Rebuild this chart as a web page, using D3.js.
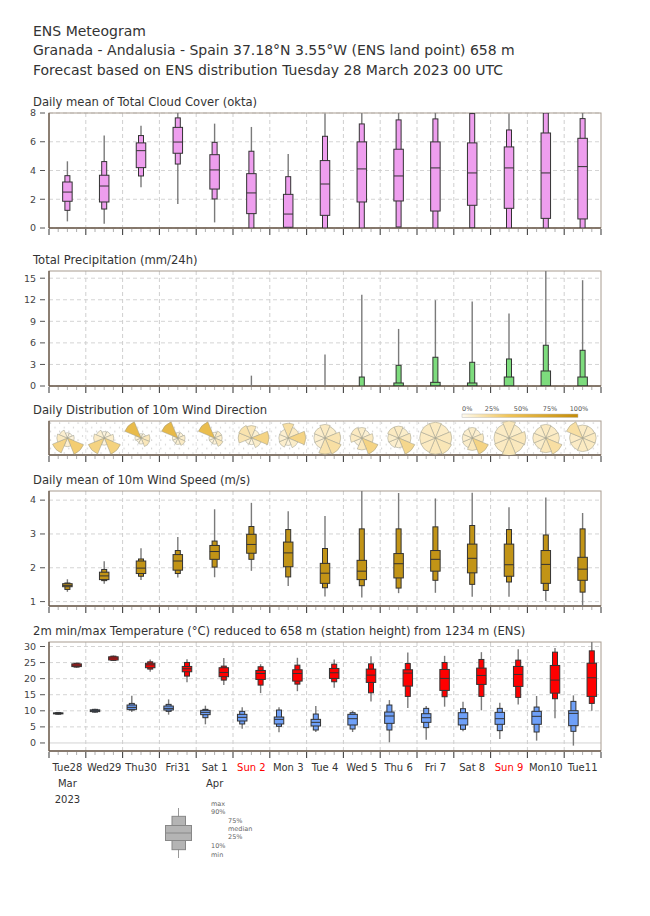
<!DOCTYPE html>
<html>
<head>
<meta charset="utf-8">
<script src="https://cdn.jsdelivr.net/npm/d3@7"></script>
<style>
  body { margin: 0; background: #fff; }
  text { font-family: "DejaVu Sans", sans-serif; }
</style>
</head>
<body>
<svg id="chart" width="650" height="916"></svg>
<script>
"use strict"

// ---- data ----
const dayLabels = ["Tue28", "Wed29", "Thu30", "Fri31", "Sat 1", "Sun 2", "Mon 3", "Tue 4",
    "Wed 5", "Thu 6", "Fri 7", "Sat 8", "Sun 9", "Mon10", "Tue11"]
const redDays = ["Sun 2", "Sun 9"]
const monthLabels = [{day: 0, text: "Mar"}, {day: 4, text: "Apr"}]
const yearLabels = [{day: 0, text: "2023"}]

// each day: [min, p10, p25, median, p75, p90, max]
const cloud = [
    [0.46, 1.23, 1.86, 2.5, 3.2, 3.64, 4.64],
    [0.3, 1.32, 1.81, 2.92, 3.67, 4.62, 6.43],
    [2.83, 3.62, 4.2, 5.38, 5.92, 6.43, 7.12],
    [1.67, 4.45, 5.2, 5.98, 7.0, 7.66, 8.0],
    [0.39, 2.02, 2.71, 4.04, 5.1, 5.96, 7.26],
    [0, 0, 1.0, 2.44, 3.78, 5.34, 7.03],
    [0, 0, 0.05, 0.97, 2.34, 3.57, 5.15],
    [0, 0, 0.88, 3.06, 4.69, 6.38, 7.96],
    [0, 0, 1.81, 4.11, 5.99, 7.24, 8.0],
    [0, 0.07, 1.88, 3.62, 5.48, 7.52, 8.0],
    [0, 0, 1.18, 4.18, 5.99, 7.59, 8.0],
    [0, 0.02, 1.58, 3.83, 5.92, 7.96, 7.96],
    [0, 0, 1.37, 4.18, 5.64, 6.82, 7.96],
    [0, 0, 0.67, 3.83, 6.61, 8.0, 8.0],
    [0, 0, 0.63, 4.27, 6.24, 7.61, 8.0]
]
const precip = [
    [0, 0, 0, 0, 0, 0, 0],
    [0, 0, 0, 0, 0, 0, 0],
    [0, 0, 0, 0, 0, 0, 0],
    [0, 0, 0, 0, 0, 0, 0],
    [0, 0, 0, 0, 0, 0, 0.15],
    [0, 0, 0, 0, 0, 0, 1.44],
    [0, 0, 0, 0, 0, 0, 0],
    [0, 0, 0, 0, 0, 0, 4.4],
    [0, 0, 0, 0, 0, 1.25, 12.7],
    [0, 0, 0, 0, 0.42, 2.88, 7.94],
    [0, 0, 0, 0, 0.51, 4.0, 11.94],
    [0, 0, 0, 0, 0.42, 3.3, 11.75],
    [0, 0, 0, 0, 1.25, 3.76, 10.08],
    [0, 0, 0, 0, 2.09, 5.67, 16.5],
    [0, 0, 0, 0, 1.25, 4.97, 14.72]
]
const windSpeed = [
    [1.29, 1.36, 1.44, 1.48, 1.53, 1.55, 1.66],
    [1.53, 1.62, 1.65, 1.76, 1.87, 1.95, 2.19],
    [1.64, 1.75, 1.83, 1.99, 2.2, 2.26, 2.58],
    [1.71, 1.83, 1.93, 2.2, 2.39, 2.51, 2.91],
    [1.72, 2.02, 2.25, 2.48, 2.66, 2.79, 3.73],
    [1.91, 2.25, 2.43, 2.69, 2.99, 3.22, 3.92],
    [1.46, 1.73, 2.03, 2.44, 2.76, 3.13, 3.67],
    [1.15, 1.41, 1.54, 1.84, 2.13, 2.57, 3.53],
    [1.12, 1.47, 1.65, 1.9, 2.22, 3.15, 4.3],
    [1.25, 1.4, 1.7, 2.12, 2.42, 3.15, 4.21],
    [1.26, 1.63, 1.9, 2.25, 2.51, 3.21, 4.05],
    [1.14, 1.51, 1.85, 2.28, 2.7, 3.25, 4.22],
    [1.14, 1.58, 1.75, 2.09, 2.7, 3.13, 3.79],
    [1.02, 1.33, 1.54, 2.1, 2.51, 2.97, 4.08],
    [0.87, 1.28, 1.63, 1.96, 2.31, 3.15, 3.62]
]
const tempMin = [
    [8.8, 8.95, 9.05, 9.2, 9.35, 9.45, 9.6],
    [9.4, 9.6, 9.75, 10.05, 10.3, 10.45, 10.65],
    [9.6, 10.24, 10.45, 11.07, 11.8, 12.3, 14.7],
    [8.8, 9.83, 10.24, 10.76, 11.48, 12.0, 13.55],
    [5.8, 7.86, 8.8, 9.52, 10.14, 10.45, 11.6],
    [4.45, 5.9, 6.83, 7.97, 8.9, 9.83, 11.07],
    [3.3, 5.17, 5.9, 7.34, 8.07, 10.24, 11.07],
    [3.41, 4.03, 5.28, 6.41, 7.34, 9.0, 11.48],
    [3.41, 4.34, 5.59, 7.55, 8.9, 9.41, 9.93],
    [0.2, 4.03, 6.1, 8.38, 9.62, 11.8, 13.34],
    [1.03, 4.76, 6.41, 7.86, 9.1, 10.76, 11.48],
    [3.62, 4.24, 5.59, 7.55, 9.41, 10.65, 12.83],
    [1.24, 3.83, 5.8, 7.55, 9.52, 10.76, 12.5],
    [0.72, 3.41, 5.8, 8.28, 9.83, 11.17, 14.6],
    [-0.83, 3.62, 5.38, 9.2, 10.03, 12.93, 14.8]
]
const tempMax = [
    [23.4, 23.6, 23.75, 24.2, 24.6, 24.8, 25.0],
    [25.55, 25.7, 25.8, 26.4, 26.8, 27.0, 27.2],
    [22.14, 22.97, 23.4, 24.3, 24.8, 25.24, 25.97],
    [18.9, 20.8, 22.14, 23.07, 23.8, 25.03, 26.07],
    [18.0, 19.55, 20.6, 21.93, 23.4, 23.9, 26.4],
    [15.5, 18.0, 19.76, 21.6, 22.55, 23.7, 24.5],
    [16.1, 18.3, 19.24, 21.6, 22.76, 24.2, 26.5],
    [17.17, 19.03, 20.07, 21.83, 23.17, 24.5, 25.97],
    [12.93, 15.6, 18.83, 21.1, 22.97, 24.6, 27.0],
    [10.86, 14.48, 17.69, 21.72, 22.76, 24.7, 28.1],
    [11.28, 14.38, 16.34, 20.07, 22.86, 25.03, 27.1],
    [10.14, 14.48, 18.2, 21.0, 23.28, 25.97, 28.24],
    [12.0, 14.17, 17.59, 21.3, 23.8, 25.76, 29.17],
    [7.66, 13.76, 15.5, 19.55, 24.1, 28.24, 29.5],
    [10.03, 12.3, 14.48, 20.28, 24.8, 28.65, 32.0]
]
// frequency (%) per sector: N, NE, E, SE, S, SW, W, NW
const windDir = [
    [3, 3, 5, 33, 8, 28, 12, 8],
    [4, 5, 9, 30, 5, 29, 11, 7],
    [3, 4, 13, 14, 6, 4, 6, 50],
    [5, 6, 9, 11, 7, 5, 5, 52],
    [5, 9, 9, 13, 6, 5, 5, 48],
    [14, 7, 28, 10, 4, 4, 16, 17],
    [20, 12, 28, 10, 5, 9, 8, 8],
    [12, 10, 16, 20, 17, 8, 8, 9],
    [10, 7, 12, 28, 13, 6, 12, 12],
    [12, 10, 13, 26, 8, 9, 10, 12],
    [12, 11, 13, 15, 13, 12, 12, 12],
    [10, 8, 12, 28, 14, 10, 9, 9],
    [14, 10, 14, 13, 15, 12, 11, 11],
    [12, 11, 12, 20, 14, 10, 11, 10],
    [11, 11, 12, 12, 12, 11, 11, 20]
]
const freqTicks = [0, 25, 50, 75, 100]
const legendLabels = ["max", "90%", "75%", "median", "25%", "10%", "min"]

// ---- layout ----
const svg = d3.select("#chart")
const start = Date.UTC(2023, 2, 28)
const hour = 3600 * 1000
const x = d3.scaleUtc().domain([new Date(start), new Date(start + 15 * 24 * hour)]).range([49, 601])
const at = (day, h) => x(new Date(start + (day * 24 + h) * hour))

const textColor = "#333"
const frameColor = "#a89c90"
const axisColor = "#6e5e50"

svg.append("text").attr("x", 33).attr("y", 36).style("font-size", "14px").attr("fill", textColor).text("ENS Meteogram")
svg.append("text").attr("x", 33).attr("y", 55).style("font-size", "14px").attr("fill", textColor)
    .text("Granada - Andalusia - Spain 37.18°N 3.55°W (ENS land point) 658 m")
svg.append("text").attr("x", 33).attr("y", 75).style("font-size", "14px").attr("fill", textColor)
    .text("Forecast based on ENS distribution Tuesday 28 March 2023 00 UTC")

let clipId = 0

function panel(top, bottom, title, domain, ticks, opts) {
    opts = opts || {}
    const g = svg.append("g")
    const y = domain ? d3.scaleLinear().domain(domain).range([bottom, top]) : null

    g.append("text").attr("x", 33).attr("y", top - 7).style("font-size", "11.6px")
        .attr("fill", textColor).text(title)

    if (opts.pattern) {
        g.append("rect").attr("x", 49).attr("y", top).attr("width", 552).attr("height", bottom - top)
            .attr("fill", "url(#dots)")
    }

    // horizontal grid
    if (y) {
        g.selectAll(".hgrid").data(ticks).enter().append("line")
            .attr("x1", 49).attr("x2", 601)
            .attr("y1", d => y(d)).attr("y2", d => y(d))
            .attr("stroke", "#d4d4d4")
            .attr("stroke-width", 1)
            .attr("stroke-dasharray", d => (opts.zeroLine && d === 0) ? null : "4,3")
    }
    // vertical grid at day boundaries
    g.selectAll(".vgrid").data(d3.range(1, 15)).enter().append("line")
        .attr("x1", d => at(d, 0)).attr("x2", d => at(d, 0))
        .attr("y1", top).attr("y2", bottom)
        .attr("stroke", opts.pattern ? "#e2e2e2" : "#cfcfcf").attr("stroke-dasharray", "4,3")

    // frame
    g.append("rect").attr("x", 49).attr("y", top).attr("width", 552).attr("height", bottom - top)
        .attr("fill", "none").attr("stroke", frameColor).attr("stroke-width", 1)
    g.append("line").attr("x1", 49).attr("x2", 49).attr("y1", top).attr("y2", bottom)
        .attr("stroke", axisColor).attr("stroke-width", 1.4)
    g.append("line").attr("x1", 49).attr("x2", 601).attr("y1", bottom).attr("y2", bottom)
        .attr("stroke", axisColor).attr("stroke-width", 1.4)

    // y ticks
    if (y) {
        g.selectAll(".ytick").data(ticks).enter().append("line")
            .attr("x1", 40).attr("x2", 45).attr("y1", d => y(d)).attr("y2", d => y(d))
            .attr("stroke", "#555")
        g.selectAll(".ylab").data(ticks).enter().append("text")
            .attr("x", 36).attr("y", d => y(d)).attr("dy", "0.35em")
            .attr("text-anchor", "end").style("font-size", "9.5px").attr("fill", "#444")
            .text(d => d)
    }

    // x ticks every 6 h
    const hours = d3.range(0, 15 * 4 + 1)
    g.selectAll(".xtick").data(hours).enter().append("line")
        .attr("x1", d => at(0, d * 6)).attr("x2", d => at(0, d * 6))
        .attr("y1", bottom + 1).attr("y2", d => d % 4 === 0 ? bottom + 7 : bottom + 4)
        .attr("stroke", d => d % 4 === 0 ? "#444" : "#999")
        .attr("stroke-width", d => d % 4 === 0 ? 1.1 : 0.8)

    const clip = "clip" + (clipId++)
    svg.append("clipPath").attr("id", clip).append("rect")
        .attr("x", 49).attr("y", top).attr("width", 552).attr("height", bottom - top)
    const marks = svg.append("g").attr("clip-path", "url(#" + clip + ")")
    return {y: y, marks: marks, top: top, bottom: bottom}
}

function drawBoxes(p, data, hourOfDay, color) {
    const y = p.y
    const wide = 9.5, narrow = 5
    data.forEach((s, i) => {
        const cx = at(i, hourOfDay)
        const g = p.marks.append("g")
        if (s[6] > s[0]) {
            g.append("line").attr("x1", cx).attr("x2", cx)
                .attr("y1", y(s[0])).attr("y2", y(s[6]))
                .attr("stroke", "#7a7a7a").attr("stroke-width", 1.4)
        }
        if (y(s[1]) - y(s[5]) > 0.4) {
            g.append("rect").attr("x", cx - narrow / 2).attr("width", narrow)
                .attr("y", y(s[5])).attr("height", y(s[1]) - y(s[5]))
                .attr("fill", color).attr("stroke", "#333").attr("stroke-width", 1)
        }
        if (y(s[2]) - y(s[4]) > 0.4) {
            g.append("rect").attr("x", cx - wide / 2).attr("width", wide)
                .attr("y", y(s[4])).attr("height", y(s[2]) - y(s[4]))
                .attr("fill", color).attr("stroke", "#333").attr("stroke-width", 1)
            g.append("line").attr("x1", cx - wide / 2).attr("x2", cx + wide / 2)
                .attr("y1", y(s[3])).attr("y2", y(s[3]))
                .attr("stroke", "#333").attr("stroke-width", 1)
        }
    })
}

// dots pattern for the wind direction background
const defs = svg.append("defs")
const pat = defs.append("pattern").attr("id", "dots").attr("patternUnits", "userSpaceOnUse")
    .attr("x", 49).attr("y", 421).attr("width", 36.8 / 4).attr("height", 8.5)
pat.append("circle").attr("cx", 1.5).attr("cy", 2).attr("r", 0.6).attr("fill", "#aaa")
pat.append("circle").attr("cx", 6).attr("cy", 6.5).attr("r", 0.6).attr("fill", "#bbb")

const grad = defs.append("linearGradient").attr("id", "freqGrad")
const freqColor = d3.scaleLinear().domain([0, 40, 100]).range(["#fffaee", "#f0c458", "#c48c08"])
d3.range(0, 101, 10).forEach(v => grad.append("stop").attr("offset", v + "%").attr("stop-color", freqColor(v)))

// ---- panels ----
const pCloud = panel(113, 228, "Daily mean of Total Cloud Cover (okta)", [0, 8], [0, 2, 4, 6, 8])
drawBoxes(pCloud, cloud, 12, "#ee9eee")

const pPrecip = panel(271, 386, "Total Precipitation (mm/24h)", [0, 16], [0, 3, 6, 9, 12, 15])
drawBoxes(pPrecip, precip, 12, "#7ddc7d")

const pDir = panel(421, 455, "Daily Distribution of 10m Wind Direction", null, [], {pattern: true})
const cy = 438, rMax = 17.5
const arc = d3.arc().innerRadius(0)
windDir.forEach((freqs, i) => {
    const fmax = d3.max(freqs)
    const cx = at(i, 12)
    const g = pDir.marks.append("g").attr("transform", "translate(" + cx + "," + cy + ")")
    g.selectAll("path").data(freqs).enter().append("path")
        .attr("d", (f, k) => arc({
            outerRadius: rMax * Math.sqrt(f / fmax),
            startAngle: (k * 45 - 22.5) * Math.PI / 180,
            endAngle: (k * 45 + 22.5) * Math.PI / 180
        }))
        .attr("fill", f => freqColor(f))
        .attr("stroke", "#9a9a8a").attr("stroke-width", 0.5)
})
// frequency legend
const lx = d3.scaleLinear().domain([0, 100]).range([462, 578])
svg.append("rect").attr("x", lx(0)).attr("y", 414).attr("width", lx(100) - lx(0)).attr("height", 3.5)
    .attr("fill", "url(#freqGrad)").attr("stroke", "#bbb").attr("stroke-width", 0.5)
svg.selectAll(".flab").data(freqTicks).enter().append("text")
    .attr("x", d => d === 0 ? lx(d) : lx(d) + 1).attr("y", 411)
    .attr("text-anchor", d => d === 0 ? "start" : "middle")
    .style("font-size", "6.5px").attr("fill", "#555").text(d => d + "%")

const pWind = panel(491, 606, "Daily mean of 10m Wind Speed (m/s)", [0.87, 4.27], [1, 2, 3, 4])
drawBoxes(pWind, windSpeed, 12, "#c29416")

const pTemp = panel(642, 751, "2m min/max Temperature (°C) reduced to 658 m (station height) from 1234 m (ENS)",
    [-2.5, 31.4], [0, 5, 10, 15, 20, 25, 30], {zeroLine: true})
drawBoxes(pTemp, tempMin, 6, "#6fa0f8")
drawBoxes(pTemp, tempMax, 18, "#ff0000")

// day labels
svg.selectAll(".dlab").data(dayLabels).enter().append("text")
    .attr("x", (d, i) => at(i, 12)).attr("y", 771)
    .attr("text-anchor", "middle").style("font-size", "10px")
    .attr("fill", d => redDays.includes(d) ? "#ff0000" : textColor).text(d => d)
svg.selectAll(".mlab").data(monthLabels).enter().append("text")
    .attr("x", d => at(d.day, 12)).attr("y", 787)
    .attr("text-anchor", "middle").style("font-size", "10px").attr("fill", textColor).text(d => d.text)
svg.selectAll(".ylab2").data(yearLabels).enter().append("text")
    .attr("x", d => at(d.day, 12)).attr("y", 803)
    .attr("text-anchor", "middle").style("font-size", "10px").attr("fill", textColor).text(d => d.text)

// box legend
const lg = svg.append("g")
const legendY = d3.scaleLinear().domain([0, 6]).range([858, 808])
lg.append("line").attr("x1", 178.5).attr("x2", 178.5).attr("y1", legendY(0)).attr("y2", legendY(6))
    .attr("stroke", "#999").attr("stroke-width", 1)
lg.append("rect").attr("x", 172).attr("width", 13.5).attr("y", legendY(5)).attr("height", legendY(1) - legendY(5))
    .attr("fill", "#b4b4b4").attr("stroke", "#888")
lg.append("rect").attr("x", 165.5).attr("width", 26).attr("y", legendY(3.9)).attr("height", legendY(2.1) - legendY(3.9))
    .attr("fill", "#b4b4b4").attr("stroke", "#888")
lg.append("line").attr("x1", 165.5).attr("x2", 191.5).attr("y1", legendY(3)).attr("y2", legendY(3))
    .attr("stroke", "#888")
const legendPos = [
    {x: 211, y: 806}, {x: 211, y: 814}, {x: 228, y: 823}, {x: 228, y: 831},
    {x: 228, y: 839}, {x: 211, y: 848}, {x: 211, y: 857}
]
lg.selectAll("text").data(legendLabels).enter().append("text")
    .attr("x", (d, i) => legendPos[i].x).attr("y", (d, i) => legendPos[i].y)
    .style("font-size", "6.5px").attr("fill", "#666").text(d => d)
</script>
</body>
</html>
